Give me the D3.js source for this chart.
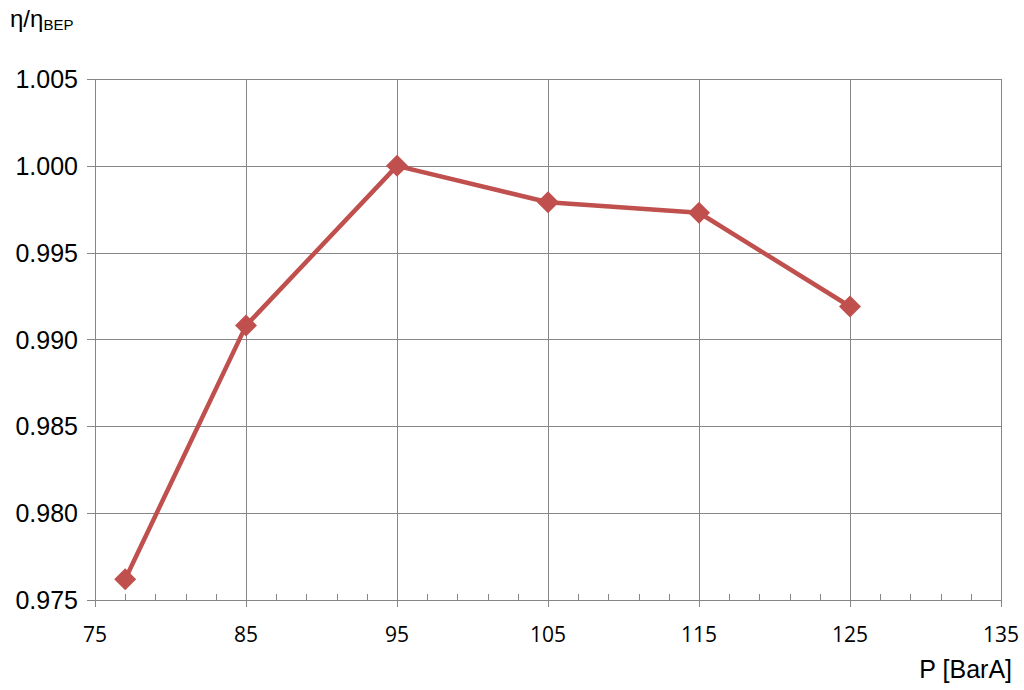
<!DOCTYPE html>
<html><head><meta charset="utf-8">
<script src="https://cdn.jsdelivr.net/npm/d3@7"></script>
<style>body{margin:0;background:#fff}svg{display:block}</style>
</head><body>
<svg id="c" width="1024" height="690"></svg>
<script>
const pressure = [77, 85, 95, 105, 115, 125];
const efficiency = [0.9762, 0.9908, 1.0000, 0.9979, 0.9973, 0.9919];
const xTicks = [75, 85, 95, 105, 115, 125, 135];
const xMinorTicks = [77, 79, 81, 83, 87, 89, 91, 93, 97, 99, 101, 103, 107, 109, 111, 113, 117, 119, 121, 123, 127, 129, 131, 133];
const yTicks = [0.975, 0.980, 0.985, 0.990, 0.995, 1.000, 1.005];

const svg = d3.select("#c");
const L = 95, R = 1001, T = 79, B = 600;
const x = d3.scaleLinear().domain([75, 135]).range([L, R]);
const y = d3.scaleLinear().domain([0.975, 1.005]).range([B, T]);
const grid = "#868686";
const col = "#C0504D";

// gridlines
svg.append("g").selectAll("line.h").data(yTicks).join("line")
  .attr("x1", L - 8).attr("x2", R).attr("y1", d => Math.round(y(d)) + 0.5).attr("y2", d => Math.round(y(d)) + 0.5)
  .attr("stroke", grid).attr("stroke-width", 1);
svg.append("g").selectAll("line.v").data(xTicks).join("line")
  .attr("x1", d => Math.round(x(d)) + 0.5).attr("x2", d => Math.round(x(d)) + 0.5).attr("y1", T).attr("y2", B + 7)
  .attr("stroke", grid).attr("stroke-width", 1);
// minor ticks
svg.append("g").selectAll("line").data(xMinorTicks).join("line")
  .attr("x1", d => Math.round(x(d)) + 0.5).attr("x2", d => Math.round(x(d)) + 0.5).attr("y1", B - 6).attr("y2", B)
  .attr("stroke", grid).attr("stroke-width", 1);

// y labels
svg.append("g").selectAll("text").data(yTicks).join("text")
  .attr("x", 78).attr("y", d => y(d)).attr("dy", "0.36em").attr("text-anchor", "end")
  .attr("font-family", "Liberation Sans, Arial, sans-serif").attr("font-size", 25).attr("fill", "#000")
  .text(d => d3.format(".3f")(d));
// x labels
svg.append("g").selectAll("text").data(xTicks).join("text")
  .attr("x", d => x(d)).attr("y", 642).attr("text-anchor", "middle")
  .attr("font-family", "Open Sans, sans-serif").attr("font-size", 21).attr("fill", "#000")
  .text(d => d);

// axis titles
const yt = svg.append("text").attr("x", 10).attr("y", 27)
  .attr("font-family", "Liberation Sans, Arial, sans-serif").attr("font-size", 24).attr("fill", "#000");
yt.append("tspan").text("η/η");
yt.append("tspan").attr("font-size", 15).attr("dy", 3).text("BEP");
svg.append("text").attr("x", 1012).attr("y", 678).attr("text-anchor", "end")
  .attr("font-family", "Liberation Sans, Arial, sans-serif").attr("font-size", 25).attr("fill", "#000")
  .text("P [BarA]");

// line
const pts = pressure.map((p, i) => [p, efficiency[i]]);
svg.append("path").datum(pts)
  .attr("d", d3.line().x(d => x(d[0])).y(d => y(d[1])))
  .attr("fill", "none").attr("stroke", col).attr("stroke-width", 4.5).attr("stroke-linejoin", "round");
svg.append("g").selectAll("path").data(pts).join("path")
  .attr("transform", d => `translate(${x(d[0])},${y(d[1])})`)
  .attr("d", "M0,-11L11,0L0,11L-11,0Z").attr("fill", col);
</script>
</body></html>
